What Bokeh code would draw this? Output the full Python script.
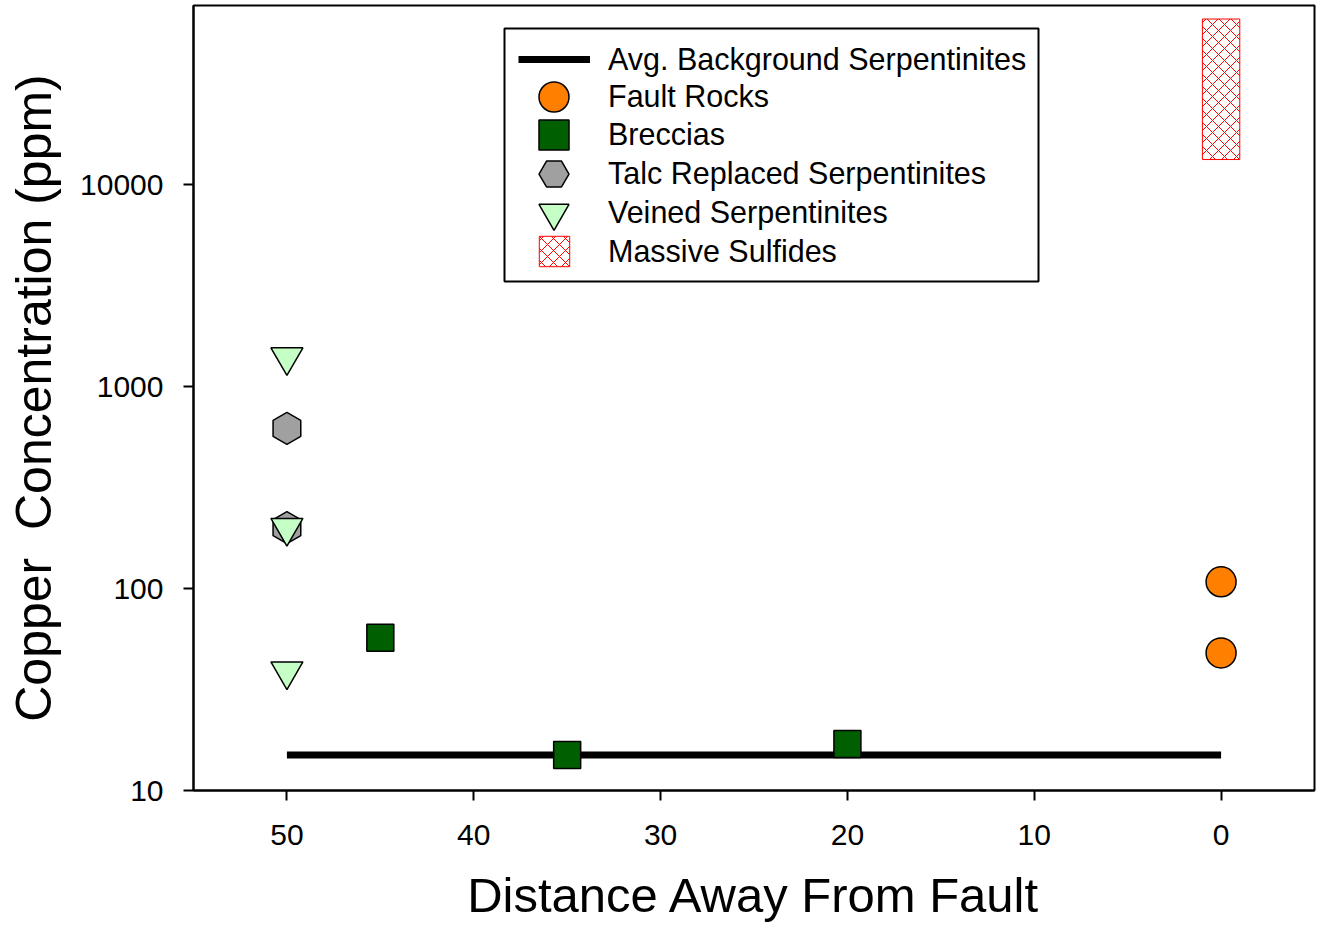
import numpy as np
from bokeh.plotting import figure
from bokeh.models import (FixedTicker, NumeralTickFormatter, Legend, LegendItem,
                          Range1d, BoxAnnotation)
from bokeh.embed import file_html
from bokeh.resources import INLINE

# Copper concentration (ppm) against distance away from the fault
background_x = [50, 0]
background_cu = [15, 15]

fault_rock_x = [0, 0]
fault_rock_cu = [108, 48]

breccia_x = [45, 35, 20]
breccia_cu = [57, 15, 17]

talc_x = [50, 50]
talc_cu = [620, 200]

veined_x = [50, 50, 50]
veined_cu = [1400, 200, 39]

# massive sulfides plotted as a range bar at the fault
sulfide_left = [1]
sulfide_right = [-1]
sulfide_low = [13300]
sulfide_high = [66000]

x_ticks = [0, 10, 20, 30, 40, 50]
y_ticks = [10, 100, 1000, 10000]

FONT = "Liberation Sans"

p = figure(
    width=1319, height=930,
    x_range=Range1d(55, -5), y_range=Range1d(10, 77000),
    y_axis_type="log",
    output_backend="svg", toolbar_location=None,
    min_border_left=193, min_border_right=5, min_border_top=5, min_border_bottom=140,
    x_axis_label="Distance Away From Fault",
    y_axis_label="Copper\u00a0 Concentration (ppm)",
)
p.background_fill_color = "white"
p.border_fill_color = "white"
p.outline_line_color = "black"
p.outline_line_width = 2
p.outline_line_alpha = 1
p.xgrid.visible = False
p.ygrid.visible = False

p.xaxis.ticker = FixedTicker(ticks=x_ticks, minor_ticks=[])
p.yaxis.ticker = FixedTicker(ticks=y_ticks, minor_ticks=[])
p.yaxis.formatter = NumeralTickFormatter(format="0")

for ax in (p.xaxis, p.yaxis):
    ax.axis_line_width = 2
    ax.axis_line_color = "black"
    ax.major_tick_line_width = 2
    ax.major_tick_line_color = "black"
    ax.major_tick_out = 10
    ax.major_tick_in = 0
    ax.minor_tick_out = 0
    ax.minor_tick_in = 0
    ax.major_label_text_font = FONT
    ax.major_label_text_font_size = "30px"
    ax.major_label_text_color = "black"
    ax.axis_label_text_font = FONT
    ax.axis_label_text_font_style = "normal"
    ax.axis_label_text_color = "black"
p.xaxis.major_label_standoff = 24
p.yaxis.major_label_standoff = 20
p.xaxis.axis_label_text_font_size = "49px"
p.yaxis.axis_label_text_font_size = "50px"
p.xaxis.axis_label_standoff = 20
p.yaxis.axis_label_standoff = 15

r_bg = p.line(background_x, background_cu, line_width=7, line_color="black")

r_sulf = p.quad(left=sulfide_left, right=sulfide_right, bottom=sulfide_low, top=sulfide_high,
                fill_alpha=0, line_color="red", line_width=1,
                hatch_pattern="diagonal_cross", hatch_color="red",
                hatch_scale=12, hatch_weight=1)

r_fault = p.scatter(fault_rock_x, fault_rock_cu, marker="circle", size=30,
                    fill_color="#FF8000", line_color="black", line_width=1.5)
r_brec = p.scatter(breccia_x, breccia_cu, marker="square", size=27,
                   fill_color="#005F00", line_color="black", line_width=1.5)
r_talc = p.scatter(talc_x, talc_cu, marker="hex", size=32, angle=np.pi / 2,
                   fill_color="#A0A0A0", line_color="black", line_width=1.5)
r_vein = p.scatter(veined_x, veined_cu, marker="inverted_triangle", size=32,
                   fill_color="#C6FFC6", line_color="black", line_width=1.5)

# legend frame (screen offsets from the frame's bottom-left corner)
p.add_layout(BoxAnnotation(left=311, right=845, bottom=509, top=762,
                           left_units="screen", right_units="screen",
                           bottom_units="screen", top_units="screen",
                           fill_color=None, fill_alpha=0,
                           line_color="black", line_width=2, line_alpha=1))

# one key row per series, so each row can have its own swatch size;
# rows are stacked inside the frame above, measured from the frame's bottom edge
FRAME_H = 785
rows = [
    # renderer, label, row centre (px from top), swatch box w/h, swatch left (px from frame left), standoff
    (r_bg, "Avg. Background Serpentinites", 54, 72, 38, 325, 18),
    (r_fault, "Fault Rocks", 91, 75, 75, 323, 17),
    (r_brec, "Breccias", 129, 75, 75, 323, 17),
    (r_talc, "Talc Replaced Serpentinites", 168, 75, 75, 323, 17),
    (r_vein, "Veined Serpentinites", 207, 75, 75, 323, 17),
    (r_sulf, "Massive Sulfides", 246, 38, 38, 342, 35),
]
for rend, label, cy, gw, gh, lx, standoff in rows:
    p.add_layout(Legend(
        items=[LegendItem(label=label, renderers=[rend], index=0)],
        location=(lx, FRAME_H - cy - gh / 2),
        padding=0, margin=0, spacing=0,
        glyph_width=gw, glyph_height=gh, label_height=gh, label_standoff=standoff,
        label_text_font=FONT, label_text_font_size="30.5px", label_text_color="black",
        border_line_alpha=0, background_fill_alpha=0,
    ))

open("out.html", "w").write(file_html(p, INLINE))
